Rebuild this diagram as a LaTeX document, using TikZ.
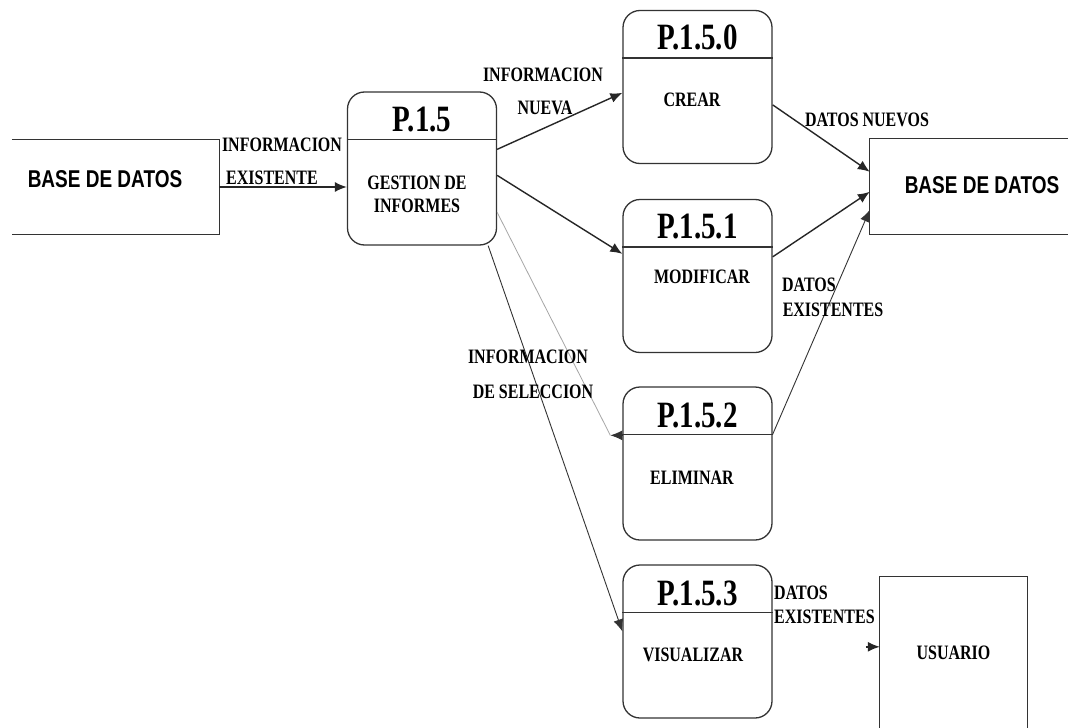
\documentclass[tikz,border=0pt]{standalone}
\usepackage{fontspec}
\usepackage{graphicx}
\setmainfont{Liberation Serif}
\newfontfamily\labelsans{Liberation Sans}
\usetikzlibrary{calc,arrows.meta}
\newcommand{\tall}[1]{\scalebox{1}[1.28]{#1}}
\tikzset{
  ink/.style={draw=black!80, line width=1.3pt},
  procbox/.style={ink, rounded corners=17pt, minimum width=149pt, minimum height=153pt, inner sep=0pt},
  plainbox/.style={inner sep=0pt},
  title/.style={font=\bfseries\fontsize{29}{32}\selectfont, inner sep=0pt},
  body/.style={font=\bfseries\fontsize{16}{23}\selectfont, align=center, inner sep=0pt},
  lbl/.style={font=\bfseries\fontsize{16}{23}\selectfont, inner sep=0pt},
  ent/.style={font=\labelsans\bfseries\fontsize{19}{22}\selectfont, inner sep=0pt},
  flow/.style={draw=black!85, line width=1.4pt, -{Latex[length=12pt,width=10pt]}},
  thinflow/.style={draw=black!80, line width=0.9pt, -{Latex[length=12pt,width=10pt]}},
}
\begin{document}
\begin{tikzpicture}[x=1pt,y=-1pt]
\useasboundingbox (0,0) rectangle (1068,728);
\fill[white] (0,0) rectangle (1068,728);

% external entities (open-sided boxes)
\node[plainbox, minimum width=207pt, minimum height=94pt] (bddl) at (115.5,187) {};
\draw[ink] (bddl.north west) -- (bddl.north east) -- (bddl.south east) -- (bddl.south west);
\node[ent] (bddltxt) at (105,179) {\tall{BASE DE DATOS}};

\node[plainbox, minimum width=198pt, minimum height=95pt] (bddr) at (969,186.5) {};
\draw[ink] (bddr.north east) -- (bddr.north west) -- (bddr.south west) -- (bddr.south east);
\node[ent] (bddrtxt) at (982,185) {\tall{BASE DE DATOS}};

\node[plainbox, minimum width=147pt, minimum height=151pt, font=\bfseries\fontsize{16}{23}\selectfont] (usr) at (953.5,652.5) {\tall{USUARIO}};
\draw[ink] (usr.south west) -- (usr.north west) -- (usr.north east) -- (usr.south east);

% processes
\node[procbox] (p15)  at (422,168.5) {};
\node[procbox] (p150) at (697.5,87) {};
\node[procbox] (p151) at (697.5,276) {};
\node[procbox] (p152) at (697.5,463.5) {};
\node[procbox] (p153) at (697.5,641.5) {};

\foreach \p in {p15,p150,p151,p152,p153}{
  \draw[ink] ($(\p.north west)+(0,48)$) -- ($(\p.north east)+(0,48)$);
}

\node[title] at ($(p15.north)+(0,28)$)  {\tall{P.1.5}};
\node[title] at ($(p150.north)+(0,28)$) {\tall{P.1.5.0}};
\node[title] at ($(p151.north)+(0,28)$) {\tall{P.1.5.1}};
\node[title] at ($(p152.north)+(0,29)$) {\tall{P.1.5.2}};
\node[title] at ($(p153.north)+(0,29)$) {\tall{P.1.5.3}};

\node[body] at (417,194) {\tall{GESTION DE}\\\tall{INFORMES}};
\node[body] at (692,100) {\tall{CREAR}};
\node[body] at (702,277) {\tall{MODIFICAR}};
\node[body] at (692,478) {\tall{ELIMINAR}};
\node[body] at (693,655) {\tall{VISUALIZAR}};

% data flows
\draw[flow] (bddl.east) -- (bddl.east -| p15.west);
\draw[flow] ($(p15.north east)+(0,58)$) -- ($(p150.north west)+(0,83)$);
\draw[flow] ($(p15.north east)+(0,84)$) -- ($(p151.north west)+(0,55)$);
\draw[flow] ($(p150.north east)+(0,95)$) -- ($(bddr.north west)+(0,33)$);
\draw[flow] ($(p151.north east)+(0,58)$) -- ($(bddr.north west)+(0,53)$);
\draw[thinflow] ($(p152.north east)+(0,48)$) -- ($(bddr.north west)+(0,71)$);

\coordinate (seltip) at ($(p152.north west)+(-12,49)$);
\draw[thinflow] ($(p152.north west)+(0,49)$) -- (seltip);
\draw[draw=black!35, line width=0.8pt] ($(p15.north east)+(0,121)$) -- (seltip);
\draw[thinflow] ($(p15.south east)+(-9,0)$) -- ($(p153.north west)+(0,67)$);

\coordinate (usrin) at ($(usr.north west)+(-14,70)$);
\draw[flow] (usrin) -- ($(usr.north west)+(0,70)$);

% flow labels
\node[lbl] at (282,145) {\tall{INFORMACION}};
\node[lbl] at (272,178) {\tall{EXISTENTE}};
\node[lbl] at (543,75)  {\tall{INFORMACION}};
\node[lbl] at (545,108) {\tall{NUEVA}};
\node[lbl] at (867,120) {\tall{DATOS NUEVOS}};
\node[lbl] at (809,285) {\tall{DATOS}};
\node[lbl] at (833,310) {\tall{EXISTENTES}};
\node[lbl] at (528,357) {\tall{INFORMACION}};
\node[lbl] at (533,392) {\tall{DE SELECCION}};
\node[lbl, anchor=west] at (774,593) {\tall{DATOS}};
\node[lbl, anchor=west] at (774,617) {\tall{EXISTENTES}};
\end{tikzpicture}
\end{document}
